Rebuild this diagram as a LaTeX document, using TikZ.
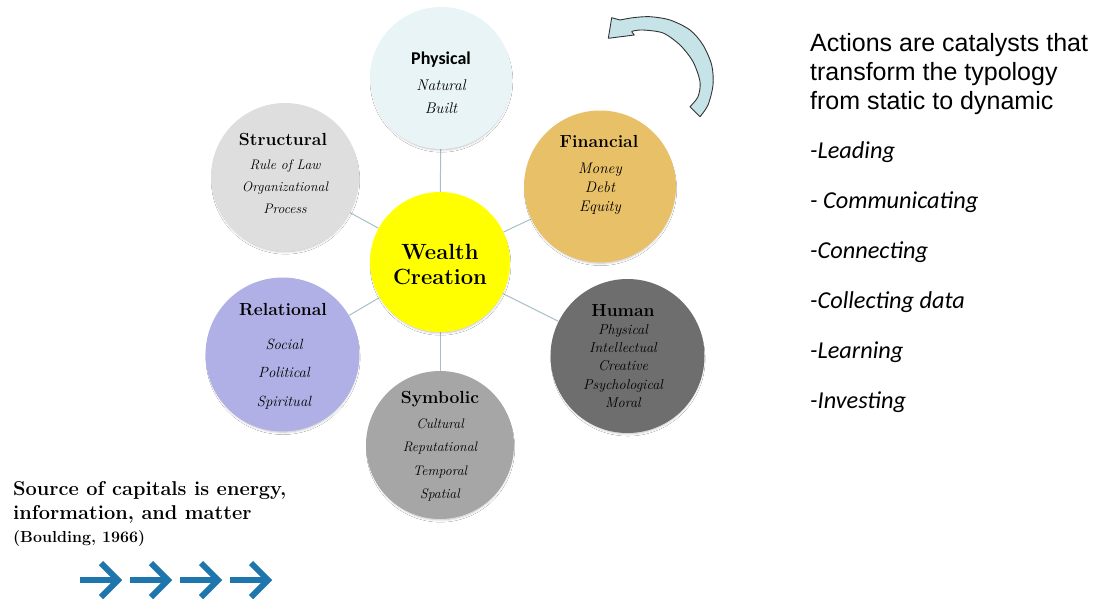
\documentclass[tikz,border=0pt]{standalone}
\usepackage{fontspec}
\newfontfamily\arialf{Liberation Sans}
\newfontfamily\calibrif{Carlito}
\usetikzlibrary{shadows.blur,backgrounds}
\definecolor{physc}{HTML}{E9F4F6}
\definecolor{strucc}{HTML}{DEDEDE}
\definecolor{finc}{HTML}{E8C068}
\definecolor{humc}{HTML}{6E6E6E}
\definecolor{relc}{HTML}{B0B0E6}
\definecolor{symc}{HTML}{A6A6A6}
\definecolor{wealthc}{HTML}{FFFF00}
\definecolor{linkc}{HTML}{A8C0C8}
\definecolor{arcfill}{HTML}{C6E3E8}
\definecolor{bluearr}{HTML}{1F76AD}
\begin{document}
\begin{tikzpicture}[x=1pt,y=-1pt,
  capball/.style={circle, inner sep=0pt, minimum size=#1,
    blur shadow={shadow scale=0.97, shadow xshift=0.5pt, shadow yshift=-3pt, shadow blur steps=8, shadow blur radius=2.5pt, shadow opacity=25}},
  link/.style={draw=linkc, line width=1pt},
  ttl/.style={font=\bfseries\fontsize{17.5}{20}\selectfont, inner sep=0pt, anchor=base},
  itm/.style={font=\itshape\fontsize{#1}{#1}\selectfont, inner sep=0pt, align=center, anchor=center},
  barrow/.style={draw=bluearr, line width=6pt, line cap=butt, line join=miter},
  curvarrow/.style={draw=black!80, line width=0.9pt, fill=arcfill, line join=round}]
\useasboundingbox (0,0) rectangle (1097,600);

% circles
\node[capball=140, fill=wealthc] (wc) at (440,262) {};
\node[capball=142, fill=physc] (phys) at (441,78) {};
\node[capball=148, fill=strucc] (struc) at (285,177) {};
\node[capball=152, fill=finc] (fin) at (600,186.5) {};
\node[capball=154, fill=humc] (hum) at (627.5,356) {};
\node[capball=154, fill=relc] (rel) at (282.5,354.5) {};
\node[capball=148, fill=symc] (sym) at (440,445) {};

% connectors on background
\begin{scope}[on background layer]
  \fill[white] (0,0) rectangle (1097,600);
  \draw[link] (wc) -- (phys);
  \draw[link] (wc) -- (struc);
  \draw[link] (wc) -- (fin);
  \draw[link] (wc) -- (hum);
  \draw[link] (wc) -- (rel);
  \draw[link] (wc) -- (sym);
\end{scope}

% texts in circles
\node[font=\bfseries\fontsize{22}{25}\selectfont, align=center, inner sep=0pt] (wct) at (440,264) {Wealth\\Creation};

\node[ttl, font=\calibrif\bfseries\fontsize{18}{20}\selectfont] (physt) at (441,64) {Physical};
\node[itm=15.3, font=\itshape\fontsize{15.5}{23}\selectfont] (physi) at (441,97) {Natural\\Built};

\node[ttl] (struct) at (283,145) {Structural};
\node[itm=13.5, font=\itshape\fontsize{13.8}{22}\selectfont] (struci) at (285,187) {Rule of Law\\Organizational\\Process};

\node[ttl] (fint) at (599,147) {Financial};
\node[itm=15, font=\itshape\fontsize{15.3}{19}\selectfont] (fini) at (600,188.5) {Money\\Debt\\Equity};

\node[ttl] (humt) at (623,316) {Human};
\node[itm=14, font=\itshape\fontsize{14.3}{18.3}\selectfont] (humi) at (623,366) {Physical\\Intellectual\\Creative\\Psychological\\Moral};

\node[ttl] (relt) at (283,315) {Relational};
\node[itm=14.6, font=\itshape\fontsize{14.8}{28.5}\selectfont] (reli) at (284,374) {Social\\Political\\Spiritual};

\node[ttl] (symt) at (440,403) {Symbolic};
\node[itm=13.5, font=\itshape\fontsize{13.8}{23.3}\selectfont] (symi) at (440,460) {Cultural\\Reputational\\Temporal\\Spatial};

% curved arrow
\draw[curvarrow] (611.7,17.7) -- (608.3,38.3) -- (634.3,35) -- (631.7,31.7)
  -- plot[smooth] coordinates {(633,31) (643,30) (663,33) (680,45) (693,61.7) (700,81.7) (698,96.7) (690,106.7)}
  -- (700,116.7)
  -- plot[smooth] coordinates {(700,116.7) (708,105) (713,85) (711.7,65) (703,45) (690,30) (670,20) (650,16.7) (633,17.7) (620,20)}
  -- cycle;

% right text
\node[anchor=north west, align=left, inner sep=0pt, font=\arialf\fontsize{25}{29}\selectfont] (act) at (810,33)
  {Actions are catalysts that\\transform the typology\\from static to dynamic};
\node[anchor=north west, align=left, inner sep=0pt, font=\calibrif\itshape\fontsize{24.3}{50}\selectfont] (acts) at (810,141)
  {-Leading\\- Communicating\\-Connecting\\-Collecting data\\-Learning\\-Investing};

% bottom-left text
\node[anchor=north west, align=left, inner sep=0pt, font=\bfseries\fontsize{20}{24}\selectfont] (src) at (13,481)
  {Source of capitals is energy,\\information, and matter};
\node[anchor=base west, inner sep=0pt, font=\bfseries\fontsize{16}{18}\selectfont] (boul) at (13,542) {(Boulding, 1966)};

% blue arrows
\foreach \x in {80,130,180,230} {
  \draw[barrow] (\x,580) -- ({\x+36},580);
  \draw[barrow] ({\x+21},563) -- ({\x+38},580) -- ({\x+21},597);
}
\end{tikzpicture}
\end{document}
